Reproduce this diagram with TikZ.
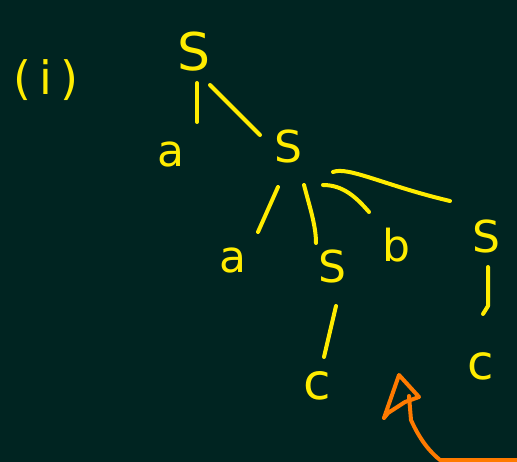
\documentclass[tikz,border=0pt]{standalone}
\usepackage{fontspec}
\setmainfont{DejaVu Sans}
\usepackage{tikz}
\usetikzlibrary{calc}
\definecolor{boardbg}{RGB}{0, 36, 33}
\definecolor{chalkyellow}{RGB}{255, 236, 0}
\definecolor{penorange}{RGB}{255, 122, 0}

\begin{document}
\begin{tikzpicture}[x=1pt, y=-1pt,
    sym/.style={text=chalkyellow, inner sep=0pt, font=\fontsize{44}{44}\selectfont},
    branch/.style={chalkyellow, line width=4pt, line cap=round, line join=round}]
    % Background
    \fill[boardbg] (0,0) rectangle (517,462);
    \useasboundingbox (0,0) rectangle (517,462);

    % Label
    \node[sym, font=\fontsize{46}{46}\selectfont] (lbl) at (46,80) {(\,i\,)};

    % Tree symbols
    \node[sym, font=\fontsize{52}{52}\selectfont] (s1) at (194,52) {S};
    \node[sym] (a1) at (171,154) {a};
    \node[sym] (s2) at (288,146) {S};
    \node[sym] (a2) at (233,260) {a};
    \node[sym] (s3) at (332,266) {S};
    \node[sym] (b) at (396,245) {b};
    \node[sym] (s4) at (486,236) {S};
    \node[sym, font=\fontsize{50}{50}\selectfont] (c1) at (317,386) {c};
    \node[sym, font=\fontsize{48}{48}\selectfont] (c2) at (481,366) {c};

    % Branches
    \draw[branch] ($(s1)+(3,31)$) -- ($(a1)+(26,-32)$);
    \draw[branch] ($(s1)+(16,33)$) -- ($(s2)+(-28,-11)$);
    \draw[branch] ($(s2)+(-10,41)$) -- ($(a2)+(25,-28)$);
    \draw[branch] ($(s2)+(16,39)$) .. controls ($(s2)+(22,62)$) and ($(s3)+(-16,-40)$) .. ($(s3)+(-16,-23)$);
    \draw[branch] ($(s2)+(35,39)$) .. controls ($(s2)+(55,39)$) and ($(b)+(-40,-48)$) .. ($(b)+(-27,-33)$);
    \draw[branch] ($(s2)+(45,26)$) .. controls ($(s2)+(60,20)$) and ($(s4)+(-100,-50)$) .. ($(s4)+(-36,-35)$);
    \draw[branch] ($(s3)+(4,40)$) -- ($(c1)+(7,-29)$);
    \draw[branch] ($(s4)+(2,31)$) -- ($(s4)+(2,70)$) -- ($(c2)+(2,-52)$);

    % Orange pointer
    \draw[penorange, line width=4pt, line cap=round, line join=round]
        (384,418) -- (399,375) -- (419,397) -- (405,402) -- (388,413) -- (384,418);
    \draw[penorange, line width=4pt, line cap=round, line join=round]
        (409,396) -- (411,420) .. controls (420,440) and (430,452) .. (440,460) -- (517,460);
\end{tikzpicture}
\end{document}
